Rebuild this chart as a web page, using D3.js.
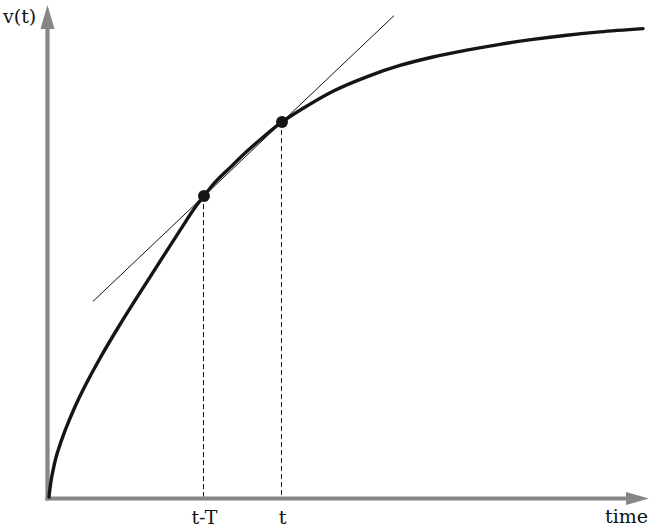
<!DOCTYPE html>
<html>
<head>
<meta charset="utf-8">
<script src="https://cdn.jsdelivr.net/npm/d3@7"></script>
<style>
  html, body { margin: 0; padding: 0; background: #fff; }
  svg { display: block; }
  text { font-family: "DejaVu Serif", "Liberation Serif", serif; }
</style>
</head>
<body>
<svg id="chart" width="650" height="531"></svg>
<script>
// ---- data (arbitrary units) ----
const curveTime  = [0.25, 0.42, 0.67, 1.0, 1.33, 1.63, 2.92, 4.58, 6.25, 8.75, 12.08, 15.42, 18.75, 22.08, 24.58, 26.08, 27.92, 30.42, 33.2, 35.97, 39.08, 42.08, 47.58, 53.2, 58.75, 64.25, 69.87, 75.42, 80.92, 86.53, 92.08, 99.25];
const curveValue = [0.31, 2.14, 4.18, 6.22, 7.96, 9.29, 13.84, 18.73, 22.96, 28.63, 35.51, 42.02, 48.39, 54.71, 59.39, 61.73, 64.51, 67.53, 70.82, 73.78, 76.84, 79.24, 83.12, 86.06, 88.37, 90.1, 91.49, 92.69, 93.69, 94.55, 95.24, 95.9];
const markTime   = [26.08, 39.08];
const markValue  = [61.73, 76.84];
const markLabels = ["t-T", "t"];
const secantRange = [7.58, 57.75];
const axisLabels = ["v(t)", "time"];

// ---- layout ----
const svg = d3.select("#chart");
const x = d3.scaleLinear().domain([0, 100]).range([47.5, 647.5]);
const y = d3.scaleLinear().domain([0, 100]).range([498.5, 8.5]);
const axisColor = "#868686";

// axes lines
svg.append("line").attr("x1", x(0) - 2).attr("x2", 628).attr("y1", y(0)).attr("y2", y(0))
  .attr("stroke", axisColor).attr("stroke-width", 4.2);
svg.append("line").attr("x1", x(0)).attr("x2", x(0)).attr("y1", y(0) + 2).attr("y2", 27)
  .attr("stroke", axisColor).attr("stroke-width", 4.2);
// arrowheads
svg.append("path").attr("d", `M${x(0)},5 L${x(0) - 7},29 L${x(0) + 7},29 Z`).attr("fill", axisColor);
svg.append("path").attr("d", `M649,${y(0)} L626,${y(0) - 6.5} L626,${y(0) + 6.5} Z`).attr("fill", axisColor);

// dashed guides
markTime.forEach((t, i) => {
  const gx = Math.floor(x(t)) + 0.5;
  svg.append("line")
    .attr("x1", gx).attr("x2", gx)
    .attr("y1", y(markValue[i])).attr("y2", y(0) - 2)
    .attr("stroke", "#111").attr("stroke-width", 1)
    .attr("stroke-dasharray", "5,3");
});

// secant line through the two marks
const slope = (markValue[1] - markValue[0]) / (markTime[1] - markTime[0]);
const lineY = t => markValue[0] + slope * (t - markTime[0]);
svg.append("line")
  .attr("x1", x(secantRange[0])).attr("y1", y(lineY(secantRange[0])))
  .attr("x2", x(secantRange[1])).attr("y2", y(lineY(secantRange[1])))
  .attr("stroke", "#111").attr("stroke-width", 1);

// curve
const pts = curveTime.map((t, i) => [t, curveValue[i]]);
svg.append("path")
  .datum(pts)
  .attr("fill", "none")
  .attr("stroke", "#151515")
  .attr("stroke-width", 3.4)
  .attr("stroke-linecap", "round")
  .attr("stroke-linejoin", "round")
  .attr("d", d3.line().x(d => x(d[0])).y(d => y(d[1])).curve(d3.curveCatmullRom.alpha(0.5)));

// marks
svg.selectAll("circle.mark")
  .data(markTime)
  .join("circle")
  .attr("class", "mark")
  .attr("cx", d => x(d))
  .attr("cy", (d, i) => y(markValue[i]))
  .attr("r", 6)
  .attr("fill", "#151515");

// tick labels via axis
const ax = d3.axisBottom(x).tickValues(markTime).tickSize(0).tickPadding(0)
  .tickFormat((d, i) => markLabels[i]);
const g = svg.append("g").attr("transform", `translate(0,${y(0)})`).call(ax);
g.select(".domain").remove();
g.selectAll("text")
  .attr("dy", null)
  .attr("y", 25)
  .attr("fill", "#111")
  .style("font-size", "19px")
  .style("font-family", "'DejaVu Serif', serif");

// axis titles
svg.append("text").attr("x", 3).attr("y", 23).attr("font-size", 19).attr("fill", "#111").text(axisLabels[0]);
svg.append("text").attr("x", 648).attr("y", 523).attr("text-anchor", "end").attr("font-size", 19).attr("fill", "#111").text(axisLabels[1]);
</script>
</body>
</html>
